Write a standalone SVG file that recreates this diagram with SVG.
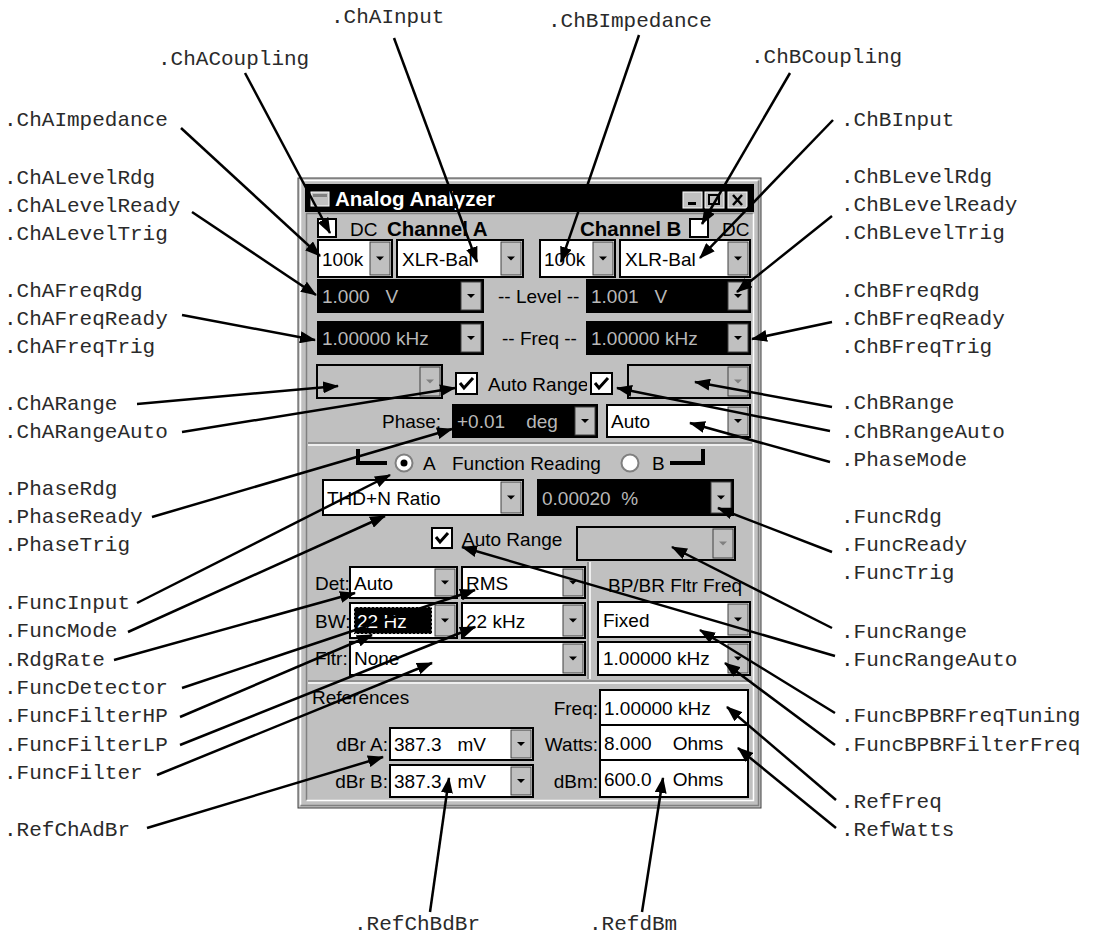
<svg xmlns="http://www.w3.org/2000/svg" xmlns:xlink="http://www.w3.org/1999/xlink" width="1096" height="939" viewBox="0 0 1096 939">
<style>
.lbl{font-family:"Liberation Mono","Courier New",monospace;font-size:21px;fill:#2a2a2a}
.ui{font-family:"Liberation Sans",Arial,sans-serif;font-size:19px;fill:#000;white-space:pre}
.uib{font-family:"Liberation Sans",Arial,sans-serif;font-size:20.5px;font-weight:bold;fill:#000}
.rd{fill:#b8b8b8}
.fw{fill:#fff;stroke:#000;stroke-width:2}
.fb{fill:#000;stroke:#000;stroke-width:2}
.fg{fill:#c0c0c0;stroke:#000;stroke-width:2}
.btn{fill:#c0c0c0;stroke:#404040;stroke-width:1}
.cb{fill:#fff;stroke:#000;stroke-width:2}
.ck{fill:none;stroke:#000;stroke-width:3}
.con line{stroke:#000;stroke-width:2.5;marker-end:url(#ah)}
</style>
<defs>
<marker id="ah" markerWidth="16" markerHeight="12" refX="15" refY="6" orient="auto" markerUnits="userSpaceOnUse"><path d="M0,0 L16,6 L0,12 z" fill="#000"/></marker>
<path id="tri" d="M-4,-2 H4 L0,2 z" fill="#000"/>
<path id="trig" d="M-4,-2 H4 L0,2 z" fill="#808080"/>
<clipPath id="arclip"><rect x="480" y="360" width="107" height="40"/></clipPath>
</defs>
<rect width="1096" height="939" fill="#fff"/>

<g id="window">
<rect x="298" y="178" width="463" height="630" fill="#c0c0c0" stroke="#404040" stroke-width="1"/>
<path d="M300.5,805.5 V180.5 H758.5" fill="none" stroke="#fff" stroke-width="1.5"/>
<path d="M300.5,805.5 H758.5 V180.5" fill="none" stroke="#808080" stroke-width="1.5"/>
<rect x="305" y="184" width="449" height="28" fill="#000"/>
<rect x="311" y="192" width="18" height="14" fill="#c0c0c0" stroke="#fff" stroke-width="1"/>
<rect x="313" y="194" width="14" height="3" fill="#808080"/>
<text x="335" y="206" style="font-family:'Liberation Sans',Arial,sans-serif;font-size:20.5px;font-weight:bold;fill:#fff">Analog Analyzer</text>
<rect x="683" y="192" width="19" height="16" fill="#c0c0c0" stroke="#fff"/>
<rect x="688" y="202" width="8" height="3" fill="#000"/>
<rect x="705" y="192" width="19" height="16" fill="#c0c0c0" stroke="#fff"/>
<rect x="709" y="195" width="10" height="9" fill="none" stroke="#000" stroke-width="2"/>
<rect x="728" y="192" width="19" height="16" fill="#c0c0c0" stroke="#fff"/>
<path d="M733,195 L742,205 M742,195 L733,205" stroke="#000" stroke-width="2.5"/>
<path d="M306.5,800.5 V213.5 H753.5" fill="none" stroke="#808080" stroke-width="1.5"/>
<path d="M306.5,800.5 H753.5 V213.5" fill="none" stroke="#fff" stroke-width="1.5"/>
<path d="M308,443 H752" stroke="#808080" stroke-width="1.5"/>
<path d="M308,445 H752" stroke="#fff" stroke-width="1.5"/>
<path d="M308,681 H752" stroke="#808080" stroke-width="1.5"/>
<path d="M308,683 H752" stroke="#fff" stroke-width="1.5"/>
<path d="M588,562 V679" stroke="#808080" stroke-width="1.5"/>
<path d="M590,562 V679" stroke="#fff" stroke-width="1.5"/>
</g>

<g id="channel-a-head">
<rect x="318" y="219" width="18" height="18" class="cb"/>
<text x="350" y="236" class="ui">DC</text>
<text x="387" y="236" class="uib">Channel A</text>
</g>
<g id="channel-b-head">
<text x="580" y="236" class="uib">Channel B</text>
<rect x="690" y="219" width="18" height="18" class="cb"/>
<text x="722" y="236" class="ui">DC</text>
</g>

<g id="cha-impedance"><rect x="318" y="240" width="74" height="37" class="fw"/><rect x="370" y="242" width="20" height="33" class="btn"/><use xlink:href="#tri" x="380" y="258.5"/><text x="322" y="266" class="ui">100k</text></g>
<g id="cha-input"><rect x="397" y="240" width="126" height="37" class="fw"/><rect x="501" y="242" width="20" height="33" class="btn"/><use xlink:href="#tri" x="511" y="258.5"/><text x="402" y="266" class="ui">XLR-Bal</text></g>
<g id="chb-impedance"><rect x="540" y="240" width="75" height="37" class="fw"/><rect x="593" y="242" width="20" height="33" class="btn"/><use xlink:href="#tri" x="603" y="258.5"/><text x="544" y="266" class="ui">100k</text></g>
<g id="chb-input"><rect x="620" y="240" width="130" height="37" class="fw"/><rect x="728" y="242" width="20" height="33" class="btn"/><use xlink:href="#tri" x="738" y="258.5"/><text x="625" y="266" class="ui">XLR-Bal</text></g>

<g id="cha-level"><rect x="318" y="280" width="165" height="32" class="fb"/><rect x="461" y="282" width="20" height="28" class="btn"/><use xlink:href="#tri" x="471" y="296"/><text x="322" y="303" class="ui rd">1.000   V</text></g>
<text x="498" y="303" class="ui">-- Level --</text>
<g id="chb-level"><rect x="587" y="280" width="163" height="32" class="fb"/><rect x="728" y="282" width="20" height="28" class="btn"/><use xlink:href="#tri" x="738" y="296"/><text x="591" y="303" class="ui rd">1.001   V</text></g>

<g id="cha-freq"><rect x="318" y="322" width="165" height="32" class="fb"/><rect x="461" y="324" width="20" height="28" class="btn"/><use xlink:href="#tri" x="471" y="338"/><text x="322" y="345" class="ui rd">1.00000 kHz</text></g>
<text x="502" y="345" class="ui">-- Freq --</text>
<g id="chb-freq"><rect x="587" y="322" width="163" height="32" class="fb"/><rect x="728" y="324" width="20" height="28" class="btn"/><use xlink:href="#tri" x="738" y="338"/><text x="591" y="345" class="ui rd">1.00000 kHz</text></g>

<g id="cha-range"><rect x="317" y="365" width="125" height="33" class="fg"/><rect x="420" y="367" width="20" height="29" class="btn"/><use xlink:href="#trig" x="430" y="381.5"/></g>
<g id="range-auto"><rect x="456" y="373" width="21" height="21" class="cb"/><path d="M460,383 l4,5 l9,-10" class="ck"/><text x="488" y="391" class="ui" clip-path="url(#arclip)">Auto Range</text><rect x="591" y="373" width="21" height="21" class="cb"/><path d="M595,383 l4,5 l9,-10" class="ck"/></g>
<g id="chb-range"><rect x="628" y="365" width="122" height="33" class="fg"/><rect x="728" y="367" width="20" height="29" class="btn"/><use xlink:href="#trig" x="738" y="381.5"/></g>

<text x="382" y="428" class="ui">Phase:</text>
<g id="phase"><rect x="453" y="405" width="144" height="32" class="fb"/><rect x="575" y="407" width="20" height="28" class="btn"/><use xlink:href="#tri" x="585" y="421"/><text x="457" y="428" class="ui rd">+0.01    deg</text></g>
<g id="phase-mode"><rect x="607" y="405" width="143" height="32" class="fw"/><rect x="728" y="407" width="20" height="28" class="btn"/><use xlink:href="#tri" x="738" y="421"/><text x="611" y="428" class="ui">Auto</text></g>

<g id="function-head">
<path d="M358,449 V463 H387" fill="none" stroke="#000" stroke-width="4"/>
<path d="M670,463 H703 V449" fill="none" stroke="#000" stroke-width="4"/>
<circle cx="404" cy="463" r="8.5" fill="#fff" stroke="#808080" stroke-width="2"/><circle cx="404" cy="463" r="3.5" fill="#000"/>
<text x="423" y="470" class="ui">A</text>
<text x="452" y="470" class="ui">Function Reading</text>
<circle cx="630" cy="463" r="8.5" fill="#fff" stroke="#808080" stroke-width="2"/>
<text x="652" y="470" class="ui">B</text>
</g>
<g id="func-input"><rect x="323" y="480" width="200" height="35" class="fw"/><rect x="501" y="482" width="20" height="31" class="btn"/><use xlink:href="#tri" x="511" y="497.5"/><text x="327" y="505" class="ui">THD+N Ratio</text></g>
<g id="func-rdg"><rect x="538" y="480" width="195" height="35" class="fb"/><rect x="711" y="482" width="20" height="31" class="btn"/><use xlink:href="#tri" x="721" y="497.5"/><text x="542" y="505" class="ui rd">0.00020  %</text></g>
<g id="func-range-auto"><rect x="432" y="528" width="20" height="20" class="cb"/><path d="M436,537 l4,5 l8,-9" class="ck"/><text x="462" y="546" class="ui">Auto Range</text></g>
<g id="func-range"><rect x="577" y="527" width="158" height="33" class="fg"/><rect x="713" y="529" width="20" height="29" class="btn"/><use xlink:href="#trig" x="723" y="543.5"/></g>

<text x="315" y="590" class="ui">Det:</text>
<g id="rdg-rate"><rect x="350" y="567" width="107" height="31" class="fw"/><rect x="435" y="569" width="20" height="27" class="btn"/><use xlink:href="#tri" x="445" y="582.5"/><text x="354" y="590" class="ui">Auto</text></g>
<g id="func-detector"><rect x="462" y="567" width="123" height="31" class="fw"/><rect x="563" y="569" width="20" height="27" class="btn"/><use xlink:href="#tri" x="573" y="582.5"/><text x="466" y="590" class="ui">RMS</text></g>
<text x="608" y="592" class="ui">BP/BR Fltr Freq</text>

<text x="315" y="628" class="ui">BW:</text>
<g id="func-filter-hp"><rect x="350" y="603" width="107" height="35" class="fw"/><rect x="354" y="607" width="78" height="27" fill="#000" stroke="#fff" stroke-width="1" stroke-dasharray="2 2"/><rect x="435" y="605" width="20" height="31" class="btn"/><use xlink:href="#tri" x="445" y="620.5"/><text x="357" y="628" class="ui" style="fill:#fff">22 Hz</text></g>
<g id="func-filter-lp"><rect x="462" y="603" width="123" height="35" class="fw"/><rect x="563" y="605" width="20" height="31" class="btn"/><use xlink:href="#tri" x="573" y="620.5"/><text x="466" y="628" class="ui">22 kHz</text></g>
<g id="bpbr-tuning"><rect x="598" y="602" width="152" height="35" class="fw"/><rect x="728" y="604" width="20" height="31" class="btn"/><use xlink:href="#tri" x="738" y="619.5"/><text x="603" y="627" class="ui">Fixed</text></g>

<text x="315" y="665" class="ui">Fltr:</text>
<g id="func-filter"><rect x="350" y="642" width="235" height="33" class="fw"/><rect x="563" y="644" width="20" height="29" class="btn"/><use xlink:href="#tri" x="573" y="658.5"/><text x="354" y="665" class="ui">None</text></g>
<g id="bpbr-freq"><rect x="598" y="642" width="152" height="33" class="fw"/><rect x="728" y="644" width="20" height="29" class="btn"/><use xlink:href="#tri" x="738" y="658.5"/><text x="603" y="665" class="ui">1.00000 kHz</text></g>

<text x="312" y="704" class="ui">References</text>
<text x="598" y="715" class="ui" text-anchor="end">Freq:</text>
<g id="ref-freq"><rect x="600" y="690" width="148" height="35" class="fw"/><text x="604" y="715" class="ui">1.00000 kHz</text></g>
<text x="388" y="751" class="ui" text-anchor="end">dBr A:</text>
<g id="ref-cha"><rect x="390" y="728" width="143" height="32" class="fw"/><rect x="511" y="730" width="20" height="28" class="btn"/><use xlink:href="#tri" x="521" y="744"/><text x="394" y="751" class="ui">387.3   mV</text></g>
<text x="598" y="751" class="ui" text-anchor="end">Watts:</text>
<g id="ref-watts"><rect x="600" y="725" width="148" height="35" class="fw"/><text x="604" y="750" class="ui">8.000    Ohms</text></g>
<text x="388" y="788" class="ui" text-anchor="end">dBr B:</text>
<g id="ref-chb"><rect x="390" y="765" width="143" height="32" class="fw"/><rect x="511" y="767" width="20" height="28" class="btn"/><use xlink:href="#tri" x="521" y="781"/><text x="394" y="788" class="ui">387.3   mV</text></g>
<text x="598" y="788" class="ui" text-anchor="end">dBm:</text>
<g id="ref-dbm"><rect x="600" y="760" width="148" height="37" class="fw"/><text x="604" y="786" class="ui">600.0    Ohms</text></g>

<g id="labels">
<text class="lbl" x="331" y="23">.ChAInput</text>
<text class="lbl" x="158" y="65">.ChACoupling</text>
<text class="lbl" x="548" y="27">.ChBImpedance</text>
<text class="lbl" x="751" y="63">.ChBCoupling</text>
<text class="lbl" x="4" y="126">.ChAImpedance</text>
<text class="lbl" x="4" y="184">.ChALevelRdg</text>
<text class="lbl" x="4" y="212">.ChALevelReady</text>
<text class="lbl" x="4" y="240">.ChALevelTrig</text>
<text class="lbl" x="4" y="297">.ChAFreqRdg</text>
<text class="lbl" x="4" y="325">.ChAFreqReady</text>
<text class="lbl" x="4" y="353">.ChAFreqTrig</text>
<text class="lbl" x="4" y="410">.ChARange</text>
<text class="lbl" x="4" y="438">.ChARangeAuto</text>
<text class="lbl" x="4" y="495">.PhaseRdg</text>
<text class="lbl" x="4" y="523">.PhaseReady</text>
<text class="lbl" x="4" y="551">.PhaseTrig</text>
<text class="lbl" x="4" y="609">.FuncInput</text>
<text class="lbl" x="4" y="637">.FuncMode</text>
<text class="lbl" x="4" y="666">.RdgRate</text>
<text class="lbl" x="4" y="694">.FuncDetector</text>
<text class="lbl" x="4" y="722">.FuncFilterHP</text>
<text class="lbl" x="4" y="751">.FuncFilterLP</text>
<text class="lbl" x="4" y="779">.FuncFilter</text>
<text class="lbl" x="4" y="836">.RefChAdBr</text>
<text class="lbl" x="841" y="126">.ChBInput</text>
<text class="lbl" x="841" y="183">.ChBLevelRdg</text>
<text class="lbl" x="841" y="211">.ChBLevelReady</text>
<text class="lbl" x="841" y="239">.ChBLevelTrig</text>
<text class="lbl" x="841" y="297">.ChBFreqRdg</text>
<text class="lbl" x="841" y="325">.ChBFreqReady</text>
<text class="lbl" x="841" y="353">.ChBFreqTrig</text>
<text class="lbl" x="841" y="409">.ChBRange</text>
<text class="lbl" x="841" y="438">.ChBRangeAuto</text>
<text class="lbl" x="841" y="466">.PhaseMode</text>
<text class="lbl" x="841" y="523">.FuncRdg</text>
<text class="lbl" x="841" y="551">.FuncReady</text>
<text class="lbl" x="841" y="579">.FuncTrig</text>
<text class="lbl" x="841" y="638">.FuncRange</text>
<text class="lbl" x="841" y="666">.FuncRangeAuto</text>
<text class="lbl" x="841" y="722">.FuncBPBRFreqTuning</text>
<text class="lbl" x="841" y="751">.FuncBPBRFilterFreq</text>
<text class="lbl" x="841" y="808">.RefFreq</text>
<text class="lbl" x="841" y="836">.RefWatts</text>
<text class="lbl" x="354" y="930">.RefChBdBr</text>
<text class="lbl" x="589" y="930">.RefdBm</text>
</g>

<g id="connectors" class="con">
<line x1="245" y1="73" x2="330" y2="233"/>
<line x1="394" y1="38" x2="477" y2="262"/>
<line x1="181" y1="128" x2="320" y2="256"/>
<line x1="192" y1="212" x2="316" y2="295"/>
<line x1="182" y1="315" x2="315" y2="340"/>
<line x1="137" y1="404" x2="338" y2="386"/>
<line x1="182" y1="432" x2="455" y2="388"/>
<line x1="152" y1="517" x2="452" y2="429"/>
<line x1="137" y1="603" x2="390" y2="475"/>
<line x1="128" y1="632" x2="385" y2="516"/>
<line x1="114" y1="660" x2="355" y2="593"/>
<line x1="182" y1="688" x2="475" y2="590"/>
<line x1="180" y1="717" x2="372" y2="635"/>
<line x1="180" y1="745" x2="475" y2="627"/>
<line x1="157" y1="775" x2="432" y2="663"/>
<line x1="147" y1="828" x2="383" y2="757"/>
<line x1="639" y1="35" x2="561" y2="262"/>
<line x1="790" y1="73" x2="702" y2="224"/>
<line x1="833" y1="120" x2="700" y2="258"/>
<line x1="832" y1="216" x2="737" y2="292"/>
<line x1="832" y1="322" x2="752" y2="339"/>
<line x1="832" y1="407" x2="695" y2="382"/>
<line x1="830" y1="431" x2="617" y2="388"/>
<line x1="830" y1="462" x2="690" y2="423"/>
<line x1="832" y1="552" x2="718" y2="508"/>
<line x1="832" y1="628" x2="672" y2="547"/>
<line x1="835" y1="656" x2="462" y2="547"/>
<line x1="835" y1="713" x2="700" y2="630"/>
<line x1="835" y1="745" x2="725" y2="663"/>
<line x1="836" y1="800" x2="727" y2="707"/>
<line x1="836" y1="828" x2="738" y2="748"/>
<line x1="430" y1="912" x2="449" y2="778"/>
<line x1="642" y1="912" x2="663" y2="778"/>
</g>
</svg>
